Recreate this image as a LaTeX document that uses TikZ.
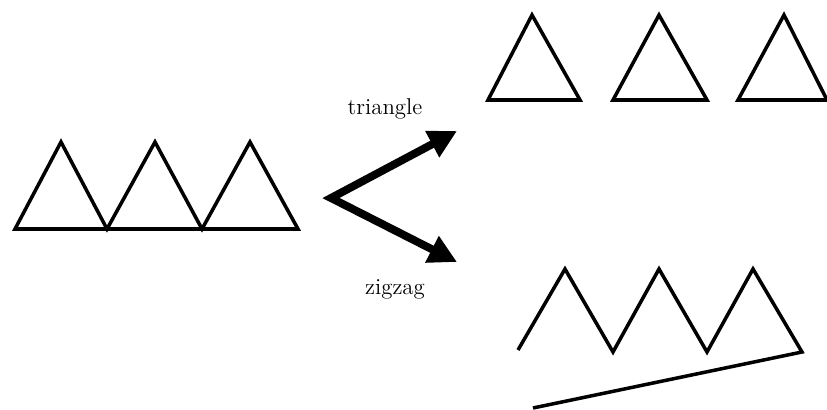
\documentclass[tikz,border=0pt]{standalone}
\usepackage{tikz}
\usetikzlibrary{arrows.meta}

\begin{document}
\begin{tikzpicture}[x=0.02cm,y=-0.02cm,
  shape line/.style={line width=2pt,line join=miter},
  split arrow/.style={line width=4.5pt,line join=miter,
    {Triangle[length=16pt,width=16pt]}-{Triangle[length=16pt,width=16pt]}},
  word/.style={font=\fontsize{13}{15}\selectfont,inner sep=0pt}]

\useasboundingbox (0,0) rectangle (827,409);

% linke Reihe
\draw[shape line] (15,229) -- (61,142) -- (107,229) -- (155,142)
  -- (202,229) -- (250,142) -- (298,229) -- cycle;

% Pfeile
\coordinate (split) at (331,198);
\coordinate (tritip) at (457,131);
\coordinate (zigtip) at (457,262);
\draw[split arrow] (tritip) -- (split) -- (zigtip);

\node[word] (tri) at (385,109) {triangle};
\node[word] (zig) at (395,289) {zigzag};

% oben rechts
\draw[shape line] (488,100) -- (532,15) -- (580,100) -- cycle;
\draw[shape line] (613,100) -- (659,15) -- (707,100) -- cycle;
\draw[shape line] (738,100) -- (784,15) -- (827,100) -- cycle;

% unten rechts
\draw[shape line] (518,350) -- (565,269) -- (613,352) -- (659,269)
  -- (707,352) -- (753,269) -- (802,352) -- (533,408);

\end{tikzpicture}
\end{document}
